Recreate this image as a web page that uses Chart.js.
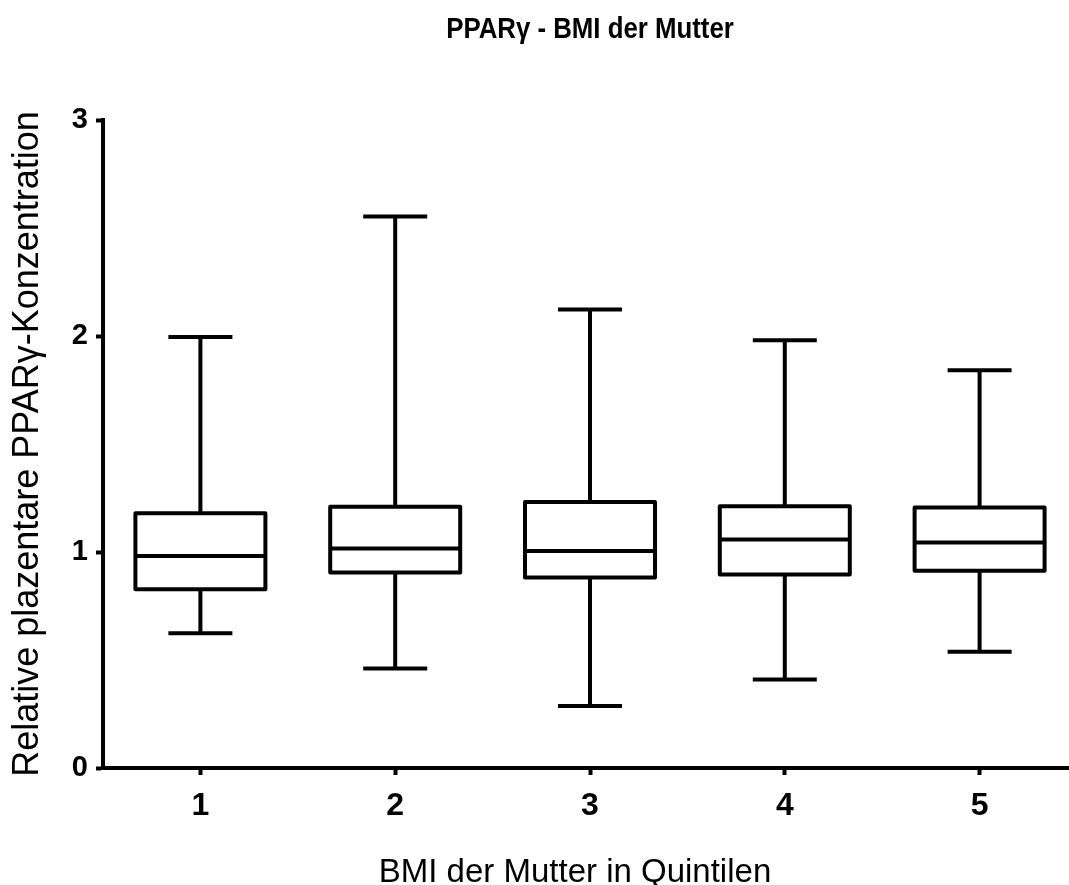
<!DOCTYPE html>
<html>
<head>
<meta charset="utf-8">
<script src="https://cdn.jsdelivr.net/npm/chart.js@4.4.0/dist/chart.umd.min.js"></script>
<style>
html,body{margin:0;padding:0;background:#fff;overflow:hidden;}
#wrap{width:1069px;height:885px;overflow:hidden;position:relative;}
canvas{display:block;}
</style>
</head>
<body>
<div id="wrap"><canvas id="c" width="1077" height="885"></canvas></div>
<script>
// ---- data ----
const categories = ['1', '2', '3', '4', '5'];
const whiskerMin = [0.624, 0.461, 0.287, 0.410, 0.538];
const q1Values   = [0.828, 0.905, 0.882, 0.896, 0.913];
const medians    = [0.981, 1.016, 1.005, 1.058, 1.044];
const q3Values   = [1.179, 1.209, 1.232, 1.212, 1.206];
const whiskerMax = [1.995, 2.553, 2.123, 1.980, 1.841];
const yTickValues = [0, 1, 2, 3];
const chartTitle = 'PPARγ - BMI der Mutter';
const xAxisTitle = 'BMI der Mutter in Quintilen';
const yAxisTitle = 'Relative plazentare PPARγ-Konzentration';

const LINE = 4;
const CAP_HALF = 32;

const boxPlugin = {
  id: 'boxWhisker',
  afterDatasetsDraw(chart) {
    const ctx = chart.ctx;
    const y = chart.scales.y;
    const meta = chart.getDatasetMeta(0);
    ctx.save();
    ctx.strokeStyle = '#000';
    ctx.lineWidth = LINE;
    ctx.lineCap = 'butt';
    meta.data.forEach((bar, i) => {
      const x = bar.x;
      const half = bar.width / 2;
      const yMax = y.getPixelForValue(whiskerMax[i]);
      const yMin = y.getPixelForValue(whiskerMin[i]);
      const yQ1 = y.getPixelForValue(q1Values[i]);
      const yQ3 = y.getPixelForValue(q3Values[i]);
      const yMed = y.getPixelForValue(medians[i]);
      ctx.beginPath();
      ctx.moveTo(x, yQ3); ctx.lineTo(x, yMax);
      ctx.moveTo(x, yQ1); ctx.lineTo(x, yMin);
      ctx.moveTo(x - CAP_HALF, yMax); ctx.lineTo(x + CAP_HALF, yMax);
      ctx.moveTo(x - CAP_HALF, yMin); ctx.lineTo(x + CAP_HALF, yMin);
      ctx.moveTo(x - half, yMed); ctx.lineTo(x + half, yMed);
      ctx.stroke();
      ctx.lineJoin = 'round';
      ctx.strokeRect(x - half, yQ3, bar.width, yQ1 - yQ3);
    });
    ctx.restore();
  },
  afterDraw(chart) {
    const ctx = chart.ctx;
    const area = chart.chartArea;
    ctx.save();
    ctx.fillStyle = '#000';
    ctx.textAlign = 'center';
    ctx.textBaseline = 'alphabetic';
    // condensed bold title
    ctx.save();
    ctx.translate((area.left + area.right) / 2, 38);
    ctx.scale(0.86, 1);
    ctx.font = "bold 30px 'Liberation Sans Narrow', 'Liberation Sans', Arial, sans-serif";
    ctx.fillText(chartTitle, 0, 0);
    ctx.restore();
    ctx.font = "33px 'Liberation Sans', Arial, sans-serif";
    ctx.fillText(xAxisTitle, 575, 882);
    ctx.restore();
  }
};

new Chart(document.getElementById('c'), {
  type: 'bar',
  data: {
    labels: categories,
    datasets: [{
      data: categories.map((c, i) => [q1Values[i], q3Values[i]]),
      backgroundColor: '#ffffff',
      borderWidth: 0,
      barThickness: 130
    }]
  },
  options: {
    responsive: false,
    animation: false,
    devicePixelRatio: 1,
    layout: { padding: { top: 120, right: 0, bottom: 0, left: 0 } },
    plugins: { legend: { display: false }, title: { display: false }, tooltip: { enabled: false } },
    scales: {
      x: {
        type: 'category',
        offset: true,
        afterFit(s) { s.height = 117; },
        grid: { display: true, offset: false, drawOnChartArea: false, drawTicks: true,
                tickLength: 7, tickWidth: LINE, tickColor: '#000' },
        border: { display: true, color: '#000', width: LINE },
        ticks: { color: '#000', padding: 12,
                 font: { family: "'Liberation Sans', Arial, sans-serif", size: 32, weight: 'bold' } },
        title: { display: false, text: xAxisTitle }
      },
      y: {
        min: 0, max: 3,
        afterFit(s) { s.width = 103; },
        afterBuildTicks(s) { s.ticks = yTickValues.map(v => ({ value: v })); },
        grid: { display: true, drawOnChartArea: false, drawTicks: true,
                tickLength: 7, tickWidth: LINE, tickColor: '#000' },
        border: { display: true, color: '#000', width: LINE },
        ticks: { color: '#000', padding: 8,
                 font: { family: "'Liberation Sans', Arial, sans-serif", size: 29, weight: 'bold' } },
        title: { display: true, text: yAxisTitle, color: '#000', padding: { top: 6, bottom: 0 },
                 font: { family: "'Liberation Sans', Arial, sans-serif", size: 36, weight: 'normal' } }
      }
    }
  },
  plugins: [boxPlugin]
});
</script>
</body>
</html>
